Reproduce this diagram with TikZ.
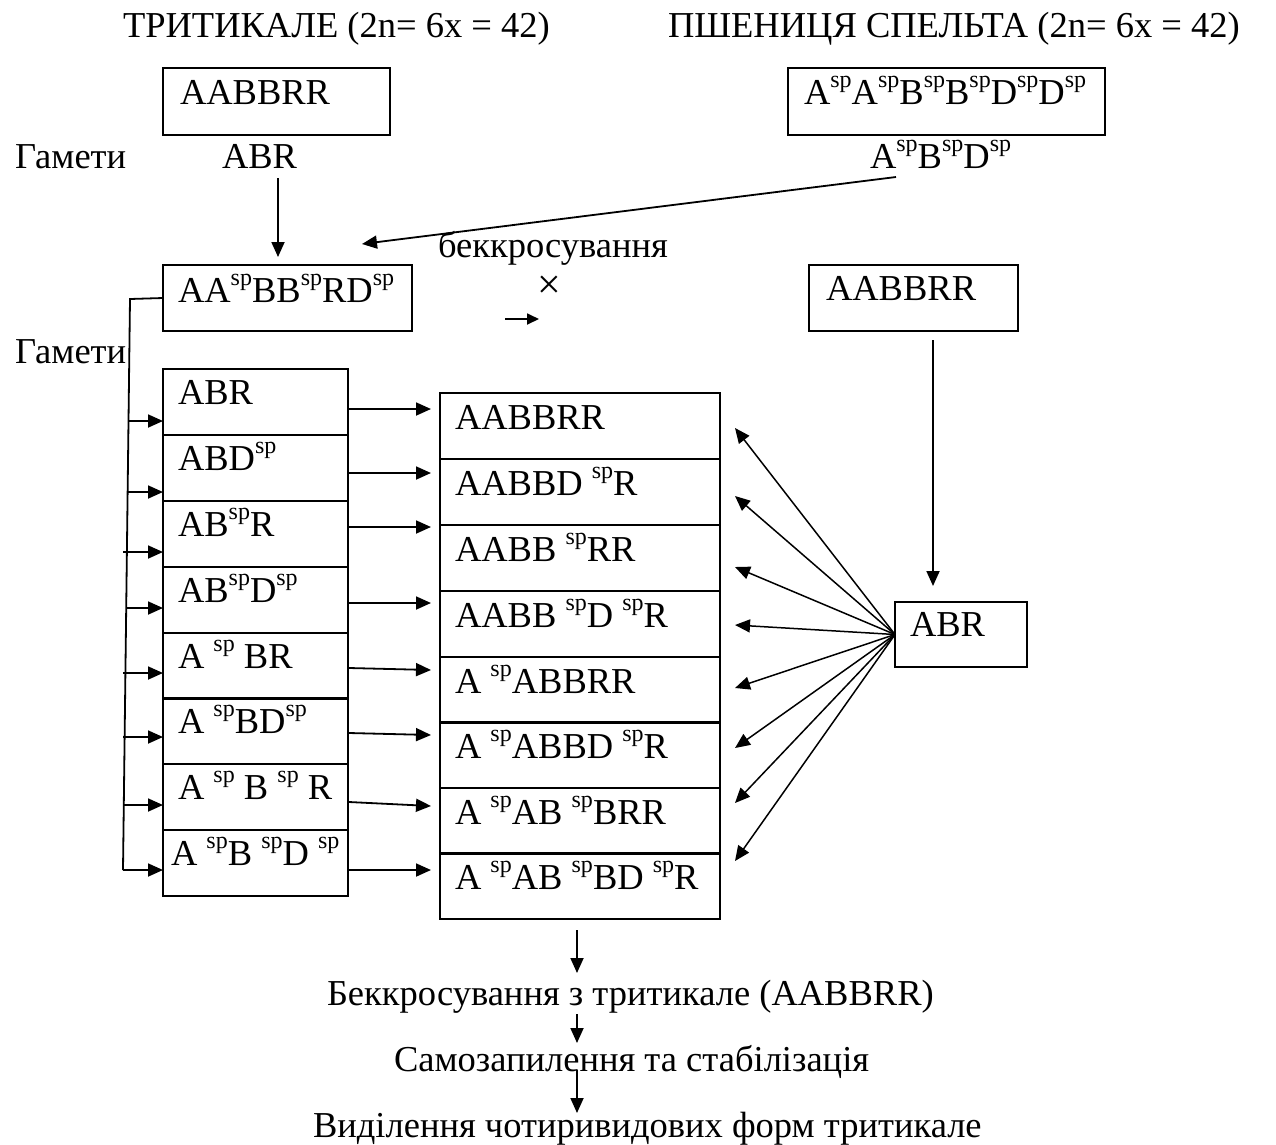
\documentclass[tikz,border=0pt]{standalone}
\usepackage{fontspec}
\setmainfont{Liberation Serif}
\usetikzlibrary{arrows.meta,calc}
\newcommand{\spp}{\raisebox{17pt}{\fontsize{24}{24}\selectfont sp}}
\begin{document}
\begin{tikzpicture}[x=1pt,y=-1pt,
  box/.style={draw, line width=2.6pt, rectangle, inner sep=0pt, outer sep=0pt, anchor=north west},
  lbl/.style={inner sep=0pt, outer sep=0pt, anchor=base west, font=\fontsize{36.5}{40}\selectfont},
  arr/.style={line width=1.8pt, -{Triangle[length=15pt,width=13pt]}},
  ln/.style={line width=1.8pt}]
\path[use as bounding box] (0,0) rectangle (1276,1144);

% titles
\node[lbl] (title1) at (123,37) {ТРИТИКАЛЕ (2n= 6x = 42)};
\node[lbl] (title2) at (668,37) {ПШЕНИЦЯ СПЕЛЬТА (2n= 6x = 42)};

% parent boxes
\node[box, minimum width=227, minimum height=67] (P1) at (163,68) {};
\node[lbl] (P1t) at (180,104) {AABBRR};
\node[box, minimum width=317, minimum height=67] (P2) at (788,68) {};
\node[lbl] (P2t) at (804,104) {A\spp A\spp B\spp B\spp D\spp D\spp};

% gametes row 1
\node[lbl] (gam1) at (15,168) {Гамети};
\node[lbl] (g1) at (222,168) {ABR};
\node[lbl] (g2) at (870,168) {A\spp B\spp D\spp};

% F1
\node[box, minimum width=249, minimum height=66] (F1) at (163,265) {};
\node[lbl] (F1t) at (178,302) {AA\spp BB\spp RD\spp};
\node[lbl] (bc) at (438,257) {беккросування};
\node[inner sep=0pt, font=\fontsize{42}{42}\selectfont] (cross) at (549,287) {×};
\coordinate (sa) at (505,319);
\coordinate (sb) at (539,319);
\draw[line width=1.8pt, -{Triangle[length=12pt,width=11pt]}] (sa) -- (sb);

\node[box, minimum width=209, minimum height=66] (P3) at (809,265) {};
\node[lbl] (P3t) at (826,300) {AABBRR};

\node[box, minimum width=132, minimum height=65] (G3) at (895,602) {};
\node[lbl] (G3t) at (910,636) {ABR};

% arrows to F1
\coordinate (g1a) at (278,178);
\coordinate (g1b) at (278,257);
\draw[arr] (g1a) -- (g1b);
\coordinate (g2a) at (896,177);
\coordinate (g2b) at (362,244);
\draw[arr] (g2a) -- (g2b);
\coordinate (p3a) at (933,340);
\coordinate (p3b) at (933,586);
\draw[arr] (p3a) -- (p3b);

\node[lbl] (gam2) at (15,363) {Гамети};

% left cells
\foreach \t [count=\i] in {369,435,501,567,633,698,764,830}
  \node[box, minimum width=185, minimum height=66] (L\i) at (163,\t) {};
% right cells
\foreach \t [count=\i] in {393,459,525,591,657,722,788,853}
  \node[box, minimum width=280, minimum height=66] (R\i) at (440,\t) {};

\node[lbl] (Lt1) at ([xshift=15pt,yshift=-35pt]L1.north west) {ABR};
\node[lbl] (Lt2) at ([xshift=15pt,yshift=-35pt]L2.north west) {ABD\spp};
\node[lbl] (Lt3) at ([xshift=15pt,yshift=-35pt]L3.north west) {AB\spp R};
\node[lbl] (Lt4) at ([xshift=15pt,yshift=-35pt]L4.north west) {AB\spp D\spp};
\node[lbl] (Lt5) at ([xshift=15pt,yshift=-35pt]L5.north west) {A \spp{} BR};
\node[lbl] (Lt6) at ([xshift=15pt,yshift=-35pt]L6.north west) {A \spp BD\spp};
\node[lbl] (Lt7) at ([xshift=15pt,yshift=-35pt]L7.north west) {A \spp{} B \spp{} R};
\node[lbl] (Lt8) at ([xshift=8pt,yshift=-35pt]L8.north west) {A \spp B \spp D \spp};

\node[lbl] (Rt1) at ([xshift=15pt,yshift=-36pt]R1.north west) {AABBRR};
\node[lbl] (Rt2) at ([xshift=15pt,yshift=-36pt]R2.north west) {AABBD \spp R};
\node[lbl] (Rt3) at ([xshift=15pt,yshift=-36pt]R3.north west) {AABB \spp RR};
\node[lbl] (Rt4) at ([xshift=15pt,yshift=-36pt]R4.north west) {AABB \spp D \spp R};
\node[lbl] (Rt5) at ([xshift=15pt,yshift=-36pt]R5.north west) {A \spp ABBRR};
\node[lbl] (Rt6) at ([xshift=15pt,yshift=-36pt]R6.north west) {A \spp ABBD \spp R};
\node[lbl] (Rt7) at ([xshift=15pt,yshift=-36pt]R7.north west) {A \spp AB \spp BRR};
\node[lbl] (Rt8) at ([xshift=15pt,yshift=-36pt]R8.north west) {A \spp AB \spp BD \spp R};

% trunk of gametes
\coordinate (tTop) at (130,299);
\coordinate (tBot) at (123,870);
\draw[ln] (F1.west) -- (tTop) -- (tBot);
\foreach \x/\y [count=\i] in {128.5/421,127.6/492,123/552,126.2/608,123/673,123/737,123.8/805,123/870}{
  \coordinate (t\i) at (\x,\y);
  \draw[arr] (t\i) -- (t\i -| L\i.west);
}

% left -> right arrows
\foreach \ys/\ye [count=\i] in {409/409,473/473,527/527,603/603,668/670,733/735,802/806,870/870}{
  \coordinate (hs\i) at (349,\ys);
  \coordinate (he\i) at (431,\ye);
  \draw[arr] (hs\i) -- (he\i);
}

% fan
\foreach \y [count=\i] in {428,496,567,625,688,748,803,861}{
  \coordinate (f\i) at (735,\y);
  \draw[line width=1.5pt, -{Triangle[length=15pt,width=13pt]}] (G3.west) -- (f\i);
}

% bottom chain
\node[lbl] (B1) at (327,1005) {Беккросування з тритикале (AABBRR)};
\node[lbl] (B2) at (394,1071) {Самозапилення та стабілізація};
\node[lbl] (B3) at (313,1137) {Виділення чотиривидових форм тритикале};
\coordinate (a1) at (577,930);
\coordinate (a2) at (577,973);
\coordinate (a3) at (577,1014);
\coordinate (a4) at (577,1043);
\coordinate (a5) at (577,1070);
\coordinate (a6) at (577,1113);
\draw[arr] (a1) -- (a2);
\draw[arr] (a3) -- (a4);
\draw[arr] (a5) -- (a6);
\end{tikzpicture}
\end{document}
